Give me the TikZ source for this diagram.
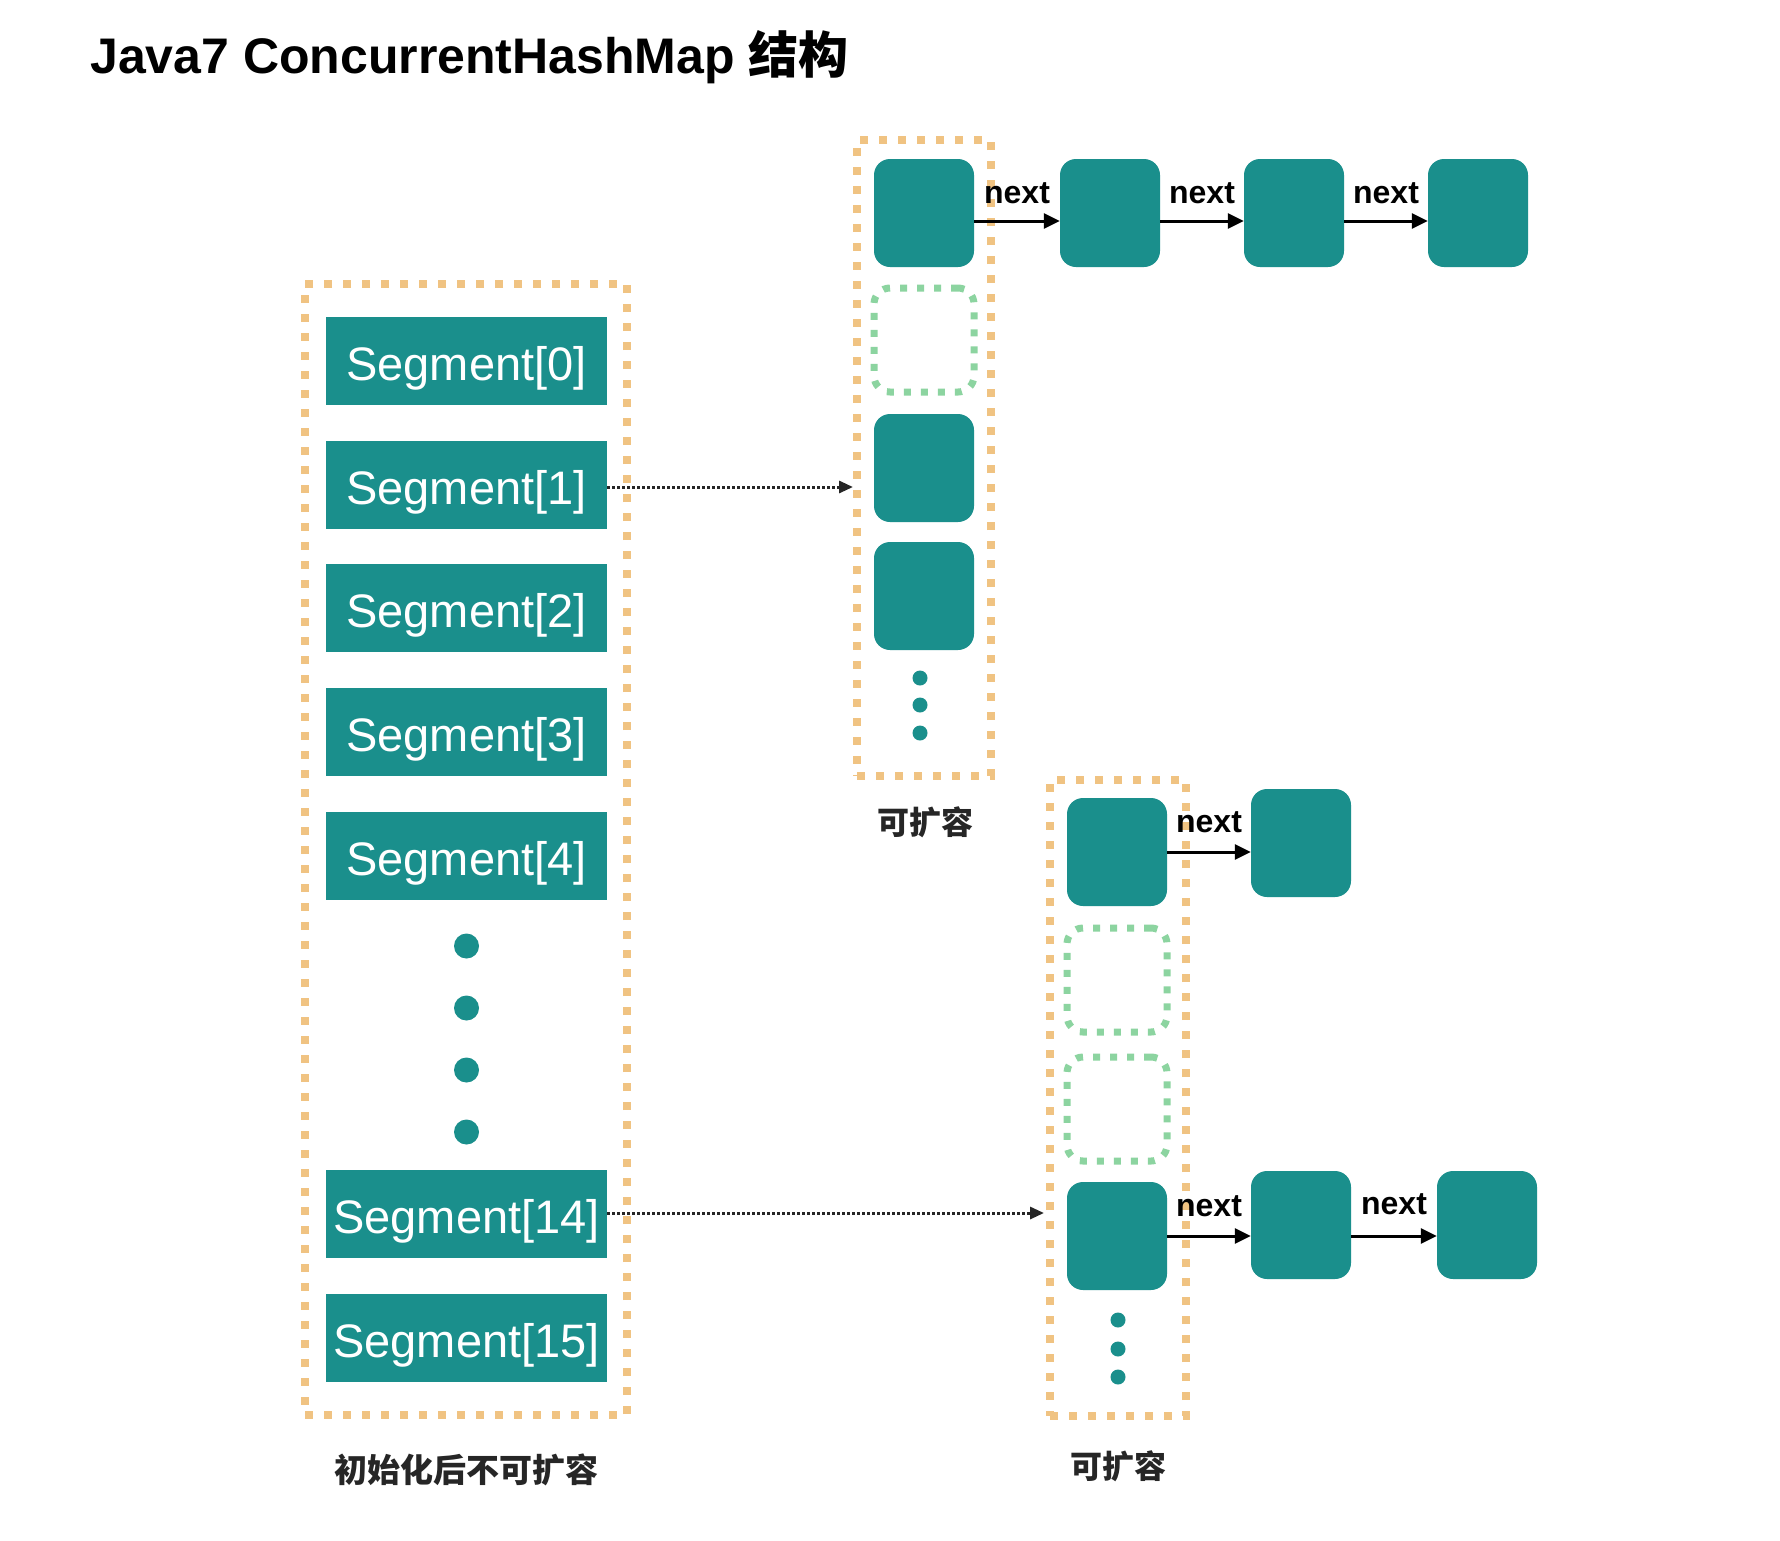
\documentclass[tikz,border=0pt]{standalone}
\usepackage{fontspec}
\setmainfont{Liberation Sans}
\newfontfamily\cjk{Noto Sans CJK SC}
\usetikzlibrary{arrows.meta}
\definecolor{tealc}{RGB}{26,143,140}
\definecolor{orng}{RGB}{240,195,130}
\definecolor{grn}{RGB}{140,212,160}
\begin{document}
\begin{tikzpicture}[x=1pt,y=-1pt,
  seg/.style={fill=tealc, minimum width=281pt, minimum height=88pt, inner sep=0pt, text height=38pt, text depth=0pt, text=white, font=\fontsize{47}{50}\selectfont},
  cell/.style={fill=tealc, rounded corners=16pt, minimum width=100pt, minimum height=108pt, inner sep=0pt},
  emptycell/.style={draw=grn, line width=7pt, dash pattern=on 7pt off 10pt, rounded corners=16pt, minimum width=100pt, minimum height=104pt, inner sep=0pt},
  groupbox/.style={draw=orng, line width=8pt, dash pattern=on 8pt off 11pt, inner sep=0pt},
  nextarrow/.style={-{Triangle[length=16pt,width=15pt]}, line width=3pt, black},
  ptr/.style={-{Triangle[length=14pt,width=12pt]}, line width=3pt, black!85, dash pattern=on 2.5pt off 2.5pt},
  nextlbl/.style={font=\bfseries\fontsize{32}{36}\selectfont, inner sep=0pt, anchor=base},
  lbl/.style={font=\cjk\bfseries\fontsize{32}{36}\selectfont, text=black!85, inner sep=0pt},
  bigdot/.style={circle, fill=tealc, inner sep=0pt, minimum size=25pt},
  smalldot/.style={circle, fill=tealc, inner sep=0pt, minimum size=15pt}
]
\fill[white] (0,0) rectangle (1780,1540);
\useasboundingbox (0,0) rectangle (1780,1540);

% title
\node[anchor=base west, inner sep=0pt, font=\bfseries\fontsize{50}{55}\selectfont] (title) at (90,73) {Java7 ConcurrentHashMap {\cjk 结构}};

% left segment array
\node[groupbox, minimum width=322pt, minimum height=1131pt] (segbox) at (466,849.5) {};
\node[seg] (s0) at (466.5,361) {Segment[0]};
\node[seg] (s1) at (466.5,485) {Segment[1]};
\node[seg] (s2) at (466.5,608) {Segment[2]};
\node[seg] (s3) at (466.5,732) {Segment[3]};
\node[seg] (s4) at (466.5,856) {Segment[4]};
\node[bigdot] (d1) at (466.5,946) {};
\node[bigdot] (d2) at (466.5,1008) {};
\node[bigdot] (d3) at (466.5,1070) {};
\node[bigdot] (d4) at (466.5,1132) {};
\node[seg] (s14) at (466.5,1214) {Segment[14]};
\node[seg] (s15) at (466.5,1338) {Segment[15]};
\node[lbl, font=\cjk\bfseries\fontsize{33}{36}\selectfont] (l1) at (466,1470) {初始化后不可扩容};

% top HashEntry array
\node[groupbox, minimum width=134pt, minimum height=636pt] (topbox) at (924,458) {};
\node[cell] (t0) at (924,213) {};
\node[emptycell] (te) at (924,340) {};
\node[cell] (t2) at (924,468) {};
\node[cell] (t3) at (924,596) {};
\node[smalldot] (td1) at (920,678) {};
\node[smalldot] (td2) at (920,705) {};
\node[smalldot] (td3) at (920,733) {};
\node[lbl] (l2) at (925,822) {可扩容};

\node[cell] (t1) at (1110,213) {};
\node[cell] (t4) at (1294,213) {};
\node[cell] (t5) at (1478,213) {};
\draw[nextarrow] ([yshift=-8pt]t0.east) -- node[nextlbl, above=16pt] {next} ([yshift=-8pt]t1.west);
\draw[nextarrow] ([yshift=-8pt]t1.east) -- node[nextlbl, above=16pt] {next} ([yshift=-8pt]t4.west);
\draw[nextarrow] ([yshift=-8pt]t4.east) -- node[nextlbl, above=16pt] {next} ([yshift=-8pt]t5.west);

% bottom HashEntry array
\node[groupbox, minimum width=136pt, minimum height=636pt] (botbox) at (1118,1098) {};
\node[cell] (b0) at (1117,852) {};
\node[emptycell] (be1) at (1117,980) {};
\node[emptycell] (be2) at (1117,1109) {};
\node[cell] (b3) at (1117,1236) {};
\node[smalldot] (bd1) at (1118,1320) {};
\node[smalldot] (bd2) at (1118,1349) {};
\node[smalldot] (bd3) at (1118,1377) {};
\node[lbl] (l3) at (1118,1466) {可扩容};

\node[cell] (bb1) at (1301,843) {};
\node[cell] (bc1) at (1301,1225) {};
\node[cell] (bc2) at (1487,1225) {};
\draw[nextarrow] (b0.east) -- node[nextlbl, above=18pt] {next} (b0.east -| bb1.west);
\draw[nextarrow] (b3.east) -- node[nextlbl, above=18pt] {next} (b3.east -| bc1.west);
\draw[nextarrow] ([yshift=-11pt]bc1.east) -- node[nextlbl, above=20pt] {next} ([yshift=-11pt]bc2.west);

% pointers from segments
\coordinate (p1) at (853,487);
\coordinate (p14) at (1044,1213);
\draw[ptr] (s1.east |- p1) -- (p1);
\draw[ptr] (s14.east |- p14) -- (p14);
\end{tikzpicture}
\end{document}
